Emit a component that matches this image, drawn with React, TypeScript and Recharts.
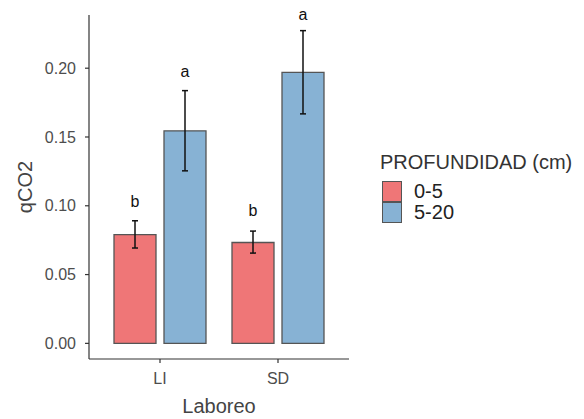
import { BarChart, Bar, XAxis, YAxis, ErrorBar, LabelList, Label, Legend } from 'recharts'

const categories = ['LI', 'SD']
const shallow = [0.079, 0.0733]
const shallowLow = [0.0693, 0.0656]
const shallowHigh = [0.0891, 0.0816]
const shallowLetters = ['b', 'b']
const shallowLetterPos = [0.1031, 0.0966]
const deep = [0.1545, 0.197]
const deepLow = [0.1254, 0.1668]
const deepHigh = [0.1837, 0.2273]
const deepLetters = ['a', 'a']
const deepLetterPos = [0.1975, 0.2394]
const yTicks = [0, 0.05, 0.1, 0.15, 0.2]

const FONT = '"Liberation Sans", Arial, sans-serif'
const RED = '#EF7677'
const BLUE = '#87B2D4'

const data = categories.map((c, i) => ({
  laboreo: c,
  s: shallow[i],
  sErr: [shallow[i] - shallowLow[i], shallowHigh[i] - shallow[i]],
  sLetter: shallowLetters[i],
  d: deep[i],
  dErr: [deep[i] - deepLow[i], deepHigh[i] - deep[i]],
  dLetter: deepLetters[i],
}))

const letterContent = (values: number[], positions: number[]) => (props: any) => {
  const { x, y, width, height, index, value } = props
  const v = values[index]
  const scale = height / v
  const base = y + height
  const ly = base - positions[index] * scale
  return (
    <text x={x + width / 2} y={ly} dy="0.35em" textAnchor="middle" fill="#111" fontSize={16} fontFamily={FONT}>
      {value}
    </text>
  )
}

const renderLegend = (props: any) => {
  const { payload } = props
  return (
    <div style={{ fontFamily: FONT, color: '#333' }}>
      <div style={{ fontSize: 20, lineHeight: '24px', height: 24, whiteSpace: 'nowrap' }}>PROFUNDIDAD (cm)</div>
      <div style={{ marginTop: 7 }}>
        {payload.map((p: any) => (
          <div key={p.value} style={{ display: 'flex', alignItems: 'center', height: 21 }}>
            <div
              style={{
                width: 20,
                height: 21,
                boxSizing: 'border-box',
                background: p.color,
                border: '1.3px solid #555',
                marginLeft: 2,
              }}
            />
            <span style={{ marginLeft: 12, fontSize: 20, lineHeight: '21px', color: '#222' }}>{p.value}</span>
          </div>
        ))}
      </div>
    </div>
  )
}

export default function App() {
  return (
    <div style={{ position: 'absolute', left: 0, top: 0, background: '#fff' }}>
      <BarChart
        width={584}
        height={419}
        data={data}
        margin={{ top: 15, right: 235, bottom: 30, left: 29 }}
        barSize={42}
        barGap={8}
      >
        <XAxis
          dataKey="laboreo"
          height={30}
          padding={{ left: 12, right: 12 }}
          stroke="#333"
          strokeWidth={1.2}
          tickSize={4}
          tickMargin={10}
          tick={{ fill: '#4D4D4D', fontSize: 16, fontFamily: FONT }}
        >
          <Label
            content={(p: any) => {
              const vb = p.viewBox
              return (
                <text x={vb.x + vb.width / 2} y={406} dy="0.35em" textAnchor="middle" fill="#444" fontSize={20} fontFamily={FONT}>
                  Laboreo
                </text>
              )
            }}
          />
        </XAxis>
        <YAxis
          width={60}
          domain={[-0.01137, 0.23867]}
          ticks={yTicks}
          tickFormatter={(v: number) => v.toFixed(2)}
          allowDataOverflow
          stroke="#333"
          strokeWidth={1.2}
          tickSize={4}
          tickMargin={9}
          tick={{ fill: '#4D4D4D', fontSize: 16, fontFamily: FONT }}
        >
          <Label
            content={(p: any) => {
              const vb = p.viewBox
              const cy = vb.y + vb.height / 2
              return (
                <text
                  x={25}
                  y={cy}
                  dy="0.35em"
                  textAnchor="middle"
                  transform={`rotate(-90, 25, ${cy})`}
                  fill="#444"
                  fontSize={20}
                  fontFamily={FONT}
                >
                  qCO2
                </text>
              )
            }}
          />
        </YAxis>
        <Legend
          layout="vertical"
          align="center"
          verticalAlign="middle"
          wrapperStyle={{ position: 'absolute', left: 380, top: 150, width: 204 }}
          content={renderLegend}
        />
        <Bar dataKey="s" name="0-5" fill={RED} stroke="#555" strokeWidth={1.3} isAnimationActive={false}>
          <ErrorBar dataKey="sErr" width={3} stroke="#111" strokeWidth={1.5} isAnimationActive={false} />
          <LabelList dataKey="sLetter" content={letterContent(shallow, shallowLetterPos)} />
        </Bar>
        <Bar dataKey="d" name="5-20" fill={BLUE} stroke="#555" strokeWidth={1.3} isAnimationActive={false}>
          <ErrorBar dataKey="dErr" width={3} stroke="#111" strokeWidth={1.5} isAnimationActive={false} />
          <LabelList dataKey="dLetter" content={letterContent(deep, deepLetterPos)} />
        </Bar>
      </BarChart>
    </div>
  )
}
